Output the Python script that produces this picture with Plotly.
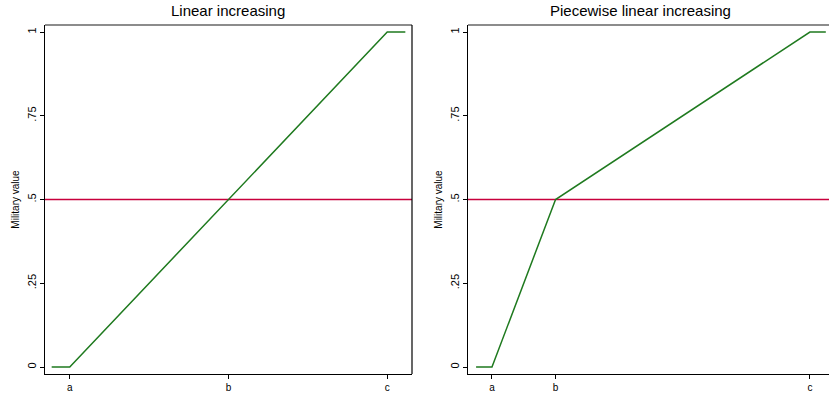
import plotly.graph_objects as go

# ---- data ----
tick_labels = ["a", "b", "c"]
linear_tick_pos = [1, 2, 3]
linear_x = [0.886, 1, 3, 3.114]
linear_y = [0, 0, 1, 1]

piece_tick_pos = [1, 2, 6]
piece_x = [0.75, 1, 2, 6, 6.25]
piece_y = [0, 0, 0.5, 1, 1]

ref_value = 0.5
y_ticks = [0, 0.25, 0.5, 0.75, 1]
y_tick_text = ["0", ".25", ".5", ".75", "1"]
titles = ["Linear increasing", "Piecewise linear increasing"]

W, H = 829, 393
GREEN = "#1f7a1f"
RED = "#c8003c"
FONT = "Liberation Sans, Arial, Helvetica, sans-serif"

fig = go.Figure()

fig.add_trace(go.Scatter(x=[0.844, 3.156], y=[ref_value, ref_value], mode="lines",
                         line=dict(color=RED, width=1.3), xaxis="x", yaxis="y",
                         showlegend=False, hoverinfo="skip"))
fig.add_trace(go.Scatter(x=linear_x, y=linear_y, mode="lines",
                         line=dict(color=GREEN, width=1.5), xaxis="x", yaxis="y",
                         showlegend=False, hoverinfo="skip"))
fig.add_trace(go.Scatter(x=[0.623, 6.3], y=[ref_value, ref_value], mode="lines",
                         line=dict(color=RED, width=1.3), xaxis="x2", yaxis="y2",
                         showlegend=False, hoverinfo="skip"))
fig.add_trace(go.Scatter(x=piece_x, y=piece_y, mode="lines",
                         line=dict(color=GREEN, width=1.5), xaxis="x2", yaxis="y2",
                         showlegend=False, hoverinfo="skip"))

ydom = [1 - 374 / H, 1 - 25 / H]
yr = [-0.0209, 1.0209]

common_x = dict(showgrid=False, zeroline=False, showline=True, linecolor="black",
                linewidth=1.2, ticks="outside", ticklen=4, tickcolor="black",
                tickfont=dict(size=10, color="black", family=FONT), mirror=False)
common_y = dict(showgrid=False, zeroline=False, showline=True, linecolor="black",
                linewidth=1.2, ticks="outside", ticklen=4, tickcolor="black",
                tickfont=dict(size=11, color="black", family=FONT), tickangle=-90,
                tickvals=y_ticks, ticktext=y_tick_text, range=yr,
                title=dict(text="Military value", font=dict(size=10, color="black", family=FONT),
                           standoff=4))

fig.update_layout(
    width=W, height=H,
    margin=dict(l=0, r=0, t=0, b=0),
    paper_bgcolor="white", plot_bgcolor="white",
    font=dict(family=FONT, color="black"),
    xaxis=dict(domain=[45 / W, 412 / W], range=[0.844, 3.156],
               tickvals=linear_tick_pos, ticktext=tick_labels, anchor="y", **common_x),
    yaxis=dict(domain=ydom, anchor="x", **common_y),
    xaxis2=dict(domain=[468 / W, 1.0], range=[0.623, 6.3],
                tickvals=piece_tick_pos, ticktext=tick_labels, anchor="y2", **common_x),
    yaxis2=dict(domain=ydom, anchor="x2", **common_y),
)

# top borders (gray) and right border of left panel (black)
fig.add_shape(type="line", xref="x domain", yref="y domain", x0=0, x1=1, y0=1, y1=1,
              line=dict(color="#666666", width=1.5))
fig.add_shape(type="line", xref="x2 domain", yref="y2 domain", x0=0, x1=1, y0=1, y1=1,
              line=dict(color="#666666", width=1.5))
fig.add_shape(type="line", xref="x domain", yref="y domain", x0=1, x1=1, y0=0, y1=1,
              line=dict(color="black", width=1.2))

# panel titles
centers = [228.5, 640]
for t, c in zip(titles, centers):
    fig.add_annotation(text=t, x=c / W, y=1 - 11 / H, xref="paper", yref="paper",
                       showarrow=False, xanchor="center", yanchor="middle",
                       font=dict(size=15, color="black", family=FONT))

fig.write_html("out.html", config={"displayModeBar": False, "responsive": False},
               post_script="document.body.style.margin='0';document.body.style.overflow='hidden';")
